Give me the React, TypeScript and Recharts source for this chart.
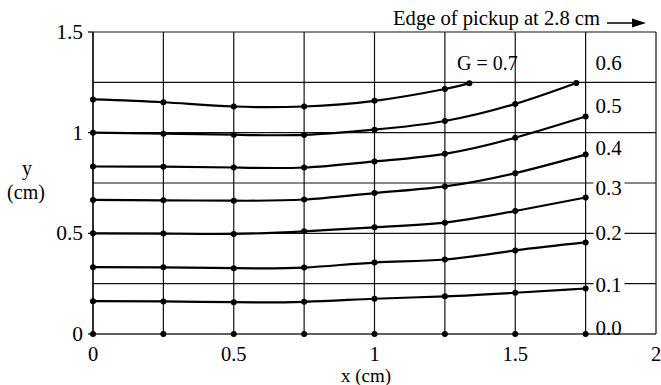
import { LineChart, Line, XAxis, YAxis, CartesianGrid, ReferenceDot } from "recharts";

// x positions of the sample points (cm)
const xs = [0, 0.25, 0.5, 0.75, 1, 1.25, 1.5, 1.75];
const xs06 = [0, 0.25, 0.5, 0.75, 1, 1.25, 1.5, 1.717];
const xs07 = [0, 0.25, 0.5, 0.75, 1, 1.25, 1.337];

// y (cm) for each G contour
const g00 = [0, 0, 0, 0, 0, 0, 0, 0];
const g01 = [0.163, 0.162, 0.158, 0.16, 0.175, 0.187, 0.205, 0.226];
const g02 = [0.332, 0.331, 0.327, 0.33, 0.355, 0.37, 0.415, 0.455];
const g03 = [0.5, 0.499, 0.497, 0.51, 0.53, 0.553, 0.611, 0.678];
const g04 = [0.666, 0.664, 0.662, 0.668, 0.7, 0.733, 0.799, 0.891];
const g05 = [0.832, 0.831, 0.827, 0.827, 0.857, 0.895, 0.975, 1.08];
const g06 = [1.0, 0.995, 0.99, 0.989, 1.015, 1.058, 1.143, 1.247];
const g07 = [1.165, 1.151, 1.13, 1.13, 1.158, 1.217, 1.246];

const xTicks = [0, 0.25, 0.5, 0.75, 1, 1.25, 1.5, 1.75, 2];
const yTicks = [0, 0.25, 0.5, 0.75, 1, 1.25, 1.5];

// right-hand G labels and where their baselines sit (data units)
const gLabels = ["0.0", "0.1", "0.2", "0.3", "0.4", "0.5", "0.6"];
const gLabelY = [-0.007, 0.21, 0.468, 0.691, 0.887, 1.097, 1.31];
const gLabelX = 1.785;

const FONT = "'Liberation Serif', 'Times New Roman', serif";

const toPts = (x: number[], y: number[]) => x.map((v, i) => ({ x: v, y: y[i] }));

const series = [
  { name: "0.0", data: toPts(xs, g00), stroke: "#777", width: 1 },
  { name: "0.1", data: toPts(xs, g01), stroke: "#000", width: 2.2 },
  { name: "0.2", data: toPts(xs, g02), stroke: "#000", width: 2.2 },
  { name: "0.3", data: toPts(xs, g03), stroke: "#000", width: 2.2 },
  { name: "0.4", data: toPts(xs, g04), stroke: "#000", width: 2.2 },
  { name: "0.5", data: toPts(xs, g05), stroke: "#000", width: 2.2 },
  { name: "0.6", data: toPts(xs06, g06), stroke: "#000", width: 2.2 },
  { name: "0.7", data: toPts(xs07, g07), stroke: "#000", width: 2.2 },
];

function YTick({ x, y, payload }: any) {
  const v = payload.value;
  if (v % 0.5 !== 0) return null;
  return (
    <g>
      <line x1={x - 5} x2={x} y1={y} y2={y} stroke="#000" strokeWidth={1.2} />
      <text x={x - 10} y={y} dy={7} textAnchor="end" fontSize={21.5} fontFamily={FONT} fill="#000">
        {String(v)}
      </text>
    </g>
  );
}

function GLabel({ cx, cy, text, blank, size = 21 }: any) {
  return (
    <g>
      {blank && <rect x={cx - 2} y={cy - 15} width={31} height={17} fill="#fff" />}
      <text x={cx} y={cy} fontSize={size} fontFamily={FONT} fill="#000">
        {text}
      </text>
    </g>
  );
}

export default function App() {
  return (
    <div style={{ width: 661, height: 385, background: "#fff" }}>
      <style>{"body{margin:0}"}</style>
      <LineChart width={661} height={385} margin={{ top: 32, right: 5, left: 0, bottom: 0 }}>
        <CartesianGrid stroke="#111" strokeWidth={1.2} />
        <XAxis
          dataKey="x"
          type="number"
          domain={[0, 2]}
          ticks={xTicks}
          height={51}
          tickSize={0}
          tickMargin={12}
          tickLine={false}
          axisLine={{ stroke: "#444", strokeWidth: 1.2 }}
          tickFormatter={(v: number) => (v % 0.5 === 0 ? String(v) : "")}
          tick={{ fill: "#000", fontSize: 20.5, fontFamily: FONT }}
          interval={0}
        />
        <YAxis
          type="number"
          domain={[0, 1.5]}
          ticks={yTicks}
          width={93}
          tickSize={0}
          tickMargin={0}
          tickLine={false}
          axisLine={{ stroke: "#000", strokeWidth: 1.2 }}
          tick={<YTick />}
          interval={0}
        />
        {series.map((s) => (
          <Line
            key={s.name}
            data={s.data}
            dataKey="y"
            type="natural"
            stroke={s.stroke}
            strokeWidth={s.width}
            dot={{ r: 3, fill: "#000", stroke: "none" }}
            isAnimationActive={false}
          />
        ))}
        {gLabels.map((t, i) => (
          <ReferenceDot
            key={t}
            x={gLabelX}
            y={gLabelY[i]}
            ifOverflow="visible"
            shape={(p: any) => <GLabel cx={p.cx} cy={p.cy} text={t} blank={i > 0} />}
          />
        ))}
        <ReferenceDot
          x={1.293}
          y={1.31}
          shape={(p: any) => <GLabel cx={p.cx} cy={p.cy} text="G = 0.7" size={20} />}
        />
        <text x={393} y={25} fontSize={20.6} fontFamily={FONT} fill="#000">
          Edge of pickup at 2.8 cm
        </text>
        <line x1={607} x2={634} y1={23} y2={23} stroke="#000" strokeWidth={1.5} />
        <polygon points="632,18.5 646,23 632,27.5" fill="#000" />
        <text x={27} y={175} textAnchor="middle" fontSize={20} fontFamily={FONT} fill="#000">
          y
        </text>
        <text x={26} y={199} textAnchor="middle" fontSize={20} fontFamily={FONT} fill="#000">
          (cm)
        </text>
        <text x={366} y={382} textAnchor="middle" fontSize={19} fontFamily={FONT} fill="#000">
          x (cm)
        </text>
      </LineChart>
    </div>
  );
}
